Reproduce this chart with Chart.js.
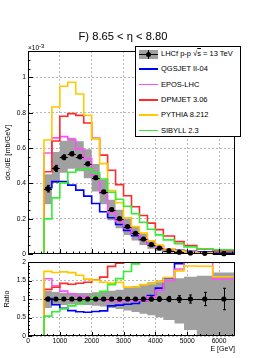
<!DOCTYPE html>
<html>
<head>
<meta charset="utf-8">
<script src="https://cdn.jsdelivr.net/npm/chart.js@4.4.1/dist/chart.umd.min.js"></script>
<style>
  html, body { margin: 0; padding: 0; background: #fff; }
  #wrap { position: relative; width: 277px; height: 358px; overflow: hidden; font-family: 'Liberation Sans', Arial, sans-serif; color: #000; }
  canvas { position: absolute; left: 0; }
  #mainCanvas { top: 0; }
  #ratioCanvas { top: 256px; }
  #title { position: absolute; left: 0; width: 246px; top: 29px; text-align: center; font-size: 11.2px; line-height: 14px; }
  #exponent { position: absolute; left: 28px; top: 43px; font-size: 6.5px; line-height: 9px; white-space: nowrap; }
  #exponent span { position: relative; top: -2px; font-size: 6px; }
  #legend { position: absolute; left: 135px; top: 46px; width: 106px; height: 91px; box-sizing: border-box; border: 1px solid #000; background: #fff; }
  .row { position: absolute; left: 0; width: 100%; height: 12px; }
  .row .lbl { position: absolute; left: 25px; top: 0; line-height: 12px; font-size: 7.5px; white-space: nowrap; }
  .row .ln { position: absolute; left: 3px; top: 5.2px; width: 19px; height: 1.6px; }
</style>
</head>
<body>
<div id="wrap">
  <canvas id="mainCanvas" width="277" height="260"></canvas>
  <canvas id="ratioCanvas" width="277" height="102"></canvas>
  <div id="title">F) 8.65 &lt; η &lt; 8.80</div>
  <div id="exponent">×10<span>-3</span></div>
  <div id="legend"></div>
</div>
<script>
// bin edges in GeV (first bin 0-500 is empty for the data)
const binEdges = [0, 500, 750, 1000, 1250, 1500, 1750, 2000, 2250, 2500, 2750, 3000, 3250, 3500, 3750, 4000, 4250, 4600, 4900, 5300, 5800, 6500];

// dσ/dE in units of 1e-3 mb/GeV
const lhcf = [null, 0.370, 0.485, 0.548, 0.568, 0.551, 0.511, 0.432, 0.352, 0.252, 0.200, 0.155, 0.117, 0.085, 0.053, 0.034, 0.019, 0.0105, 0.0055, 0.0035, 0.0015];
// relative uncertainties
const lhcfStat = [null, 0.05, 0.035, 0.025, 0.02, 0.02, 0.02, 0.022, 0.025, 0.03, 0.033, 0.037, 0.04, 0.045, 0.05, 0.06, 0.07, 0.09, 0.11, 0.18, 0.29];
const lhcfSysUp = [null, 0.22, 0.19, 0.17, 0.16, 0.16, 0.16, 0.18, 0.20, 0.22, 0.25, 0.30, 0.35, 0.40, 0.45, 0.50, 0.53, 0.56, 0.60, 0.63, 0.72];
const lhcfSysDown = [null, 0.24, 0.17, 0.16, 0.15, 0.15, 0.16, 0.18, 0.20, 0.24, 0.27, 0.31, 0.35, 0.40, 0.44, 0.49, 0.57, 0.66, 0.84, 1.0, 1.0];

const qgsjet = [0, 0.375, 0.410, 0.410, 0.390, 0.362, 0.328, 0.286, 0.239, 0.205, 0.167, 0.133, 0.103, 0.081, 0.058, 0.044, 0.0295, 0.0205, 0.015, 0.012, 0.009];
const epos   = [0, 0.572, 0.658, 0.665, 0.648, 0.595, 0.540, 0.445, 0.345, 0.235, 0.185, 0.148, 0.112, 0.081, 0.056, 0.042, 0.0285, 0.019, 0.0115, 0.0085, 0.0023];
const dpmjet = [0, 0.466, 0.640, 0.780, 0.795, 0.785, 0.742, 0.655, 0.560, 0.474, 0.393, 0.330, 0.268, 0.218, 0.175, 0.138, 0.102, 0.070, 0.048, 0.029, 0.018];
const pythia = [0, 0.646, 0.833, 0.950, 0.973, 0.906, 0.786, 0.653, 0.512, 0.360, 0.290, 0.205, 0.155, 0.118, 0.075, 0.050, 0.030, 0.0185, 0.0104, 0.0066, 0.0024];
const sibyll = [0, 0.199, 0.318, 0.403, 0.463, 0.477, 0.482, 0.460, 0.425, 0.350, 0.310, 0.270, 0.228, 0.180, 0.140, 0.108, 0.080, 0.058, 0.040, 0.030, 0.024];

const dataLabel = 'LHCf p-p √<span style="text-decoration:overline">s</span> = 13 TeV';
const modelNames = ['QGSJET II-04', 'EPOS-LHC', 'DPMJET 3.06', 'PYTHIA 8.212', 'SIBYLL 2.3'];
const modelColors = ['#0000ff', '#ff4dff', '#ff2a2a', '#ffc800', '#33ee33'];
const models = [qgsjet, epos, dpmjet, pythia, sibyll];

const xTicks = [0, 1000, 2000, 3000, 4000, 5000, 6000];
const yTicksMain = [0, 0.2, 0.4, 0.6, 0.8, 1];
const yTicksRatio = [0, 0.5, 1, 1.5, 2];

Chart.defaults.font.family = "'Liberation Sans', Arial, sans-serif";
Chart.defaults.color = '#000';

// histogram outline: one point per left edge plus the last right edge
function stepPoints(values) {
    const pts = values.map((v, i) => ({ x: binEdges[i], y: v }));
    pts.push({ x: binEdges[binEdges.length - 1], y: values[values.length - 1] });
    return pts;
}

function binCenter(i) {
    return (binEdges[i] + binEdges[i + 1]) / 2;
}

// ROOT style frame with inward ticks
const frameTicks = {
    id: 'frameTicks',
    afterDraw(chart, args, o) {
        const { ctx, chartArea: a, scales: { x, y } } = chart;
        ctx.save();
        ctx.strokeStyle = '#000';
        ctx.lineWidth = 1;
        ctx.beginPath();
        for (let k = 0; k * o.xMinor <= x.max + 1e-9; k++) {
            const px = Math.round(x.getPixelForValue(k * o.xMinor)) + 0.5;
            const len = k % o.xEvery === 0 ? o.xLen : o.xLen / 2;
            ctx.moveTo(px, a.bottom);
            ctx.lineTo(px, a.bottom - len);
        }
        for (let k = 0; k * o.yMinor <= y.max + 1e-9; k++) {
            const py = Math.round(y.getPixelForValue(k * o.yMinor)) + 0.5;
            const len = k % o.yEvery === 0 ? o.yLen : o.yLen / 2;
            ctx.moveTo(a.left, py);
            ctx.lineTo(a.left + len, py);
        }
        ctx.stroke();
        ctx.strokeRect(a.left + 0.5, a.top + 0.5, a.right - a.left - 1, a.bottom - a.top - 1);
        ctx.restore();
    }
};

// horizontal (bin width) and vertical (stat) error bars for the data
const errorBars = {
    id: 'errorBars',
    afterDatasetsDraw(chart) {
        const { ctx, scales: { x, y } } = chart;
        chart.data.datasets.forEach(ds => {
            if (!ds.errorBars) return;
            ctx.save();
            ctx.strokeStyle = '#000';
            ctx.lineWidth = 1;
            ctx.beginPath();
            ds.errorBars.forEach(b => {
                const cy = Math.round(y.getPixelForValue(b.y)) + 0.5;
                const cx = Math.round(x.getPixelForValue(b.x)) + 0.5;
                ctx.moveTo(x.getPixelForValue(b.xLo), cy);
                ctx.lineTo(x.getPixelForValue(b.xHi), cy);
                const y0 = y.getPixelForValue(b.yLo), y1 = y.getPixelForValue(b.yHi);
                ctx.moveTo(cx, y0);
                ctx.lineTo(cx, y1);
                ctx.moveTo(cx - 1.5, y0); ctx.lineTo(cx + 1.5, y0);
                ctx.moveTo(cx - 1.5, y1); ctx.lineTo(cx + 1.5, y1);
            });
            ctx.stroke();
            ctx.restore();
        });
    }
};

Chart.register(frameTicks, errorBars);

function buildDatasets(modelValues, points, bars, bandUp, bandLow) {
    const sets = [{
        data: points,
        showLine: false,
        pointRadius: 2.6,
        pointBackgroundColor: '#000',
        pointBorderWidth: 0,
        clip: false,
        order: 0,
        errorBars: bars
    }];
    modelValues.forEach((m, k) => {
        sets.push({
            data: stepPoints(m),
            stepped: true,
            borderColor: modelColors[k],
            borderWidth: 1.6,
            pointRadius: 0,
            fill: false,
            order: 5 - k
        });
    });
    sets.push({
        data: stepPoints(bandUp),
        stepped: true,
        borderColor: 'rgba(0,0,0,0)',
        backgroundColor: '#a0a0a0',
        pointRadius: 0,
        fill: '+1',
        order: 10
    });
    sets.push({
        data: stepPoints(bandLow),
        stepped: true,
        borderColor: 'rgba(0,0,0,0)',
        pointRadius: 0,
        fill: false,
        order: 11
    });
    return sets;
}

function axisX(showLabels, height) {
    return {
        type: 'linear',
        min: 0,
        max: 6500,
        afterBuildTicks: s => { s.ticks = xTicks.map(v => ({ value: v })); },
        afterFit: s => { s.height = height; },
        grid: { color: '#b8b8b8', lineWidth: 1, drawTicks: false },
        border: { display: false, dash: [2, 2] },
        ticks: {
            display: showLabels,
            font: { size: 6.7 },
            padding: 1,
            maxRotation: 0,
            autoSkip: false,
            callback: v => String(v)
        },
        title: {
            display: showLabels,
            text: 'E [GeV]',
            align: 'end',
            font: { size: 7 },
            padding: { top: 0, bottom: 4.8 }
        }
    };
}

function axisY(max, ticks, title, titlePad) {
    return {
        type: 'linear',
        min: 0,
        max: max,
        afterBuildTicks: s => { s.ticks = ticks.map(v => ({ value: v })); },
        afterFit: s => { s.width = 28; },
        grid: { color: '#b8b8b8', lineWidth: 1, drawTicks: false },
        border: { display: false, dash: [2, 2] },
        ticks: { font: { size: 6.7 }, padding: 2, callback: v => String(v) },
        title: { display: true, text: title, font: { size: 7.3 }, padding: { top: titlePad, bottom: 0 } }
    };
}

const baseOptions = {
    responsive: false,
    animation: false,
    devicePixelRatio: 1,
    parsing: true,
    plugins: { legend: { display: false }, tooltip: { enabled: false } }
};

// main panel
const mainPoints = [], mainBars = [];
const mainUp = lhcf.map((v, i) => v === null ? null : v * (1 + lhcfSysUp[i]));
const mainLow = lhcf.map((v, i) => v === null ? null : Math.max(v * (1 - lhcfSysDown[i]), 0));
lhcf.forEach((v, i) => {
    if (v === null) return;
    mainPoints.push({ x: binCenter(i), y: v });
    mainBars.push({ x: binCenter(i), y: v, xLo: binEdges[i], xHi: binEdges[i + 1], yLo: v * (1 - lhcfStat[i]), yHi: v * (1 + lhcfStat[i]) });
});

new Chart(document.getElementById('mainCanvas'), {
    type: 'line',
    data: { datasets: buildDatasets(models, mainPoints, mainBars, mainUp, mainLow) },
    options: Object.assign({}, baseOptions, {
        layout: { padding: { top: 51, right: 42, bottom: 0, left: 0 } },
        scales: {
            x: axisX(false, 6),
            y: axisY(1.15, yTicksMain, 'dσₙ/dE [mb/GeV]', 3.6)
        },
        plugins: Object.assign({}, baseOptions.plugins, {
            frameTicks: { xMinor: 200, xEvery: 5, xLen: 5, yMinor: 0.05, yEvery: 4, yLen: 5 }
        })
    })
});

// ratio panel (model / data)
const ratioModels = models.map(m => m.map((v, i) => lhcf[i] ? v / lhcf[i] : 0));
const ratioPoints = [], ratioBars = [];
const ratioUp = lhcf.map((v, i) => v === null ? null : 1 + lhcfSysUp[i]);
const ratioLow = lhcf.map((v, i) => v === null ? null : Math.max(1 - lhcfSysDown[i], 0));
lhcf.forEach((v, i) => {
    if (v === null) return;
    ratioPoints.push({ x: binCenter(i), y: 1 });
    ratioBars.push({ x: binCenter(i), y: 1, xLo: binEdges[i], xHi: binEdges[i + 1], yLo: 1 - lhcfStat[i], yHi: 1 + lhcfStat[i] });
});

new Chart(document.getElementById('ratioCanvas'), {
    type: 'line',
    data: { datasets: buildDatasets(ratioModels, ratioPoints, ratioBars, ratioUp, ratioLow) },
    options: Object.assign({}, baseOptions, {
        layout: { padding: { top: 5, right: 42, bottom: 0, left: 0 } },
        scales: {
            x: axisX(true, 22),
            y: axisY(2, yTicksRatio, 'Ratio', 3)
        },
        plugins: Object.assign({}, baseOptions.plugins, {
            frameTicks: { xMinor: 200, xEvery: 5, xLen: 4, yMinor: 0.1, yEvery: 5, yLen: 4 }
        })
    })
});

// legend
const legend = document.getElementById('legend');
let html = '<div class="row" style="top:1px">' +
    '<div style="position:absolute;left:3px;top:1.5px;width:19px;height:9px;background:#a0a0a0"></div>' +
    '<div style="position:absolute;left:3px;top:5.5px;width:19px;height:1px;background:#000"></div>' +
    '<div style="position:absolute;left:12px;top:1.5px;width:1px;height:9px;background:#000"></div>' +
    '<div style="position:absolute;left:10px;top:3.5px;width:5px;height:5px;border-radius:50%;background:#000"></div>' +
    '<span class="lbl">' + dataLabel + '</span></div>';
modelNames.forEach((name, k) => {
    const top = 1 + 15.3 * (k + 1);
    html += '<div class="row" style="top:' + top + 'px"><div class="ln" style="background:' + modelColors[k] + '"></div>' +
        '<span class="lbl">' + name + '</span></div>';
});
legend.innerHTML = html;
</script>
</body>
</html>
